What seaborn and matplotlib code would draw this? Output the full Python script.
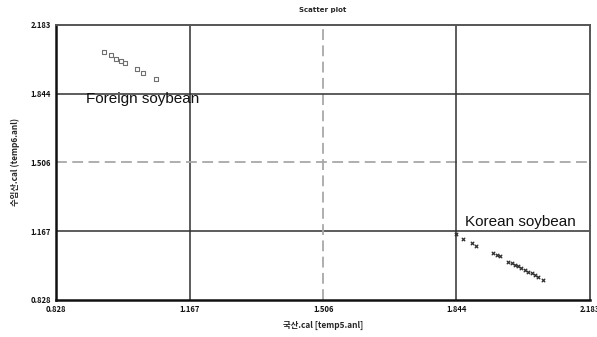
import matplotlib
matplotlib.use("Agg")
import matplotlib.pyplot as plt
import numpy as np
import pandas as pd
import seaborn as sns

# values
foreign_x = [0.950, 0.968, 0.980, 0.993, 1.003, 1.034, 1.049, 1.082]
foreign_y = [2.050, 2.035, 2.015, 2.006, 1.996, 1.966, 1.947, 1.917]

korean_x = [1.843, 1.860, 1.883, 1.894, 1.936, 1.948, 1.954, 1.976, 1.984, 1.992,
            2.001, 2.009, 2.018, 2.026, 2.035, 2.043, 2.052, 2.064]
korean_y = [1.152, 1.127, 1.107, 1.096, 1.058, 1.048, 1.045, 1.017, 1.009, 1.001,
            0.993, 0.985, 0.976, 0.968, 0.960, 0.952, 0.943, 0.927]

ticks = [0.828, 1.167, 1.506, 1.844, 2.183]
tick_labels = ["0.828", "1.167", "1.506", "1.844", "2.183"]

df = pd.concat([
    pd.DataFrame({"x": foreign_x, "y": foreign_y, "group": "Foreign"}),
    pd.DataFrame({"x": korean_x, "y": korean_y, "group": "Korean"}),
])

sns.set_theme(style="white")
plt.rcParams["font.family"] = ["Noto Sans CJK KR", "DejaVu Sans"]

fig = plt.figure(figsize=(5.97, 3.37), dpi=100)
ax = fig.add_axes([0.0938, 0.110, 0.8945, 0.816])

# grid lines at the inner ticks
for t in ticks[1:-1]:
    if t == 1.506:
        ax.axvline(t, color="#a8a8a8", lw=1.3, ls=(0, (6, 3)), zorder=0)
        ax.axhline(t, color="#a8a8a8", lw=1.3, ls=(0, (6, 3)), zorder=0)
    else:
        ax.axvline(t, color="#303030", lw=1.1, zorder=0)
        ax.axhline(t, color="#303030", lw=1.1, zorder=0)

sns.scatterplot(data=df[df.group == "Foreign"], x="x", y="y", ax=ax,
                marker="s", s=10, facecolor="none", edgecolor="#707070",
                linewidth=0.8, legend=False)
sns.scatterplot(data=df[df.group == "Korean"], x="x", y="y", ax=ax,
                marker="x", s=6, color="#303030", linewidth=0.9, legend=False)

ax.set_xlim(0.828, 2.183)
ax.set_ylim(0.828, 2.183)
ax.set_xticks(ticks)
ax.set_xticklabels(tick_labels)
ax.set_yticks(ticks)
ax.set_yticklabels(tick_labels)
ax.tick_params(axis="both", labelsize=5.5, length=2, pad=1.5, colors="#111111")
for lab in ax.get_xticklabels() + ax.get_yticklabels():
    lab.set_fontweight("bold")

for side in ["left", "bottom"]:
    ax.spines[side].set_color("#111111")
    ax.spines[side].set_linewidth(1.8)
for side in ["top", "right"]:
    ax.spines[side].set_color("#555555")
    ax.spines[side].set_linewidth(1.4)

ax.set_xlabel("국산.cal [temp5.anl]", fontsize=6, fontweight="bold", labelpad=5)
ax.set_ylabel("수입산.cal (temp6.anl)", fontsize=6, fontweight="bold", labelpad=8)
ax.set_title("Scatter plot", fontsize=5, fontweight="bold", pad=9,
             family=["DejaVu Sans"])

ax.text(0.903, 1.80, "Foreign soybean", fontsize=11, family=["Liberation Sans"],
        color="#111111")
ax.text(1.866, 1.193, "Korean soybean", fontsize=11, family=["Liberation Sans"],
        color="#111111")

fig.savefig("out.png", dpi=100)
